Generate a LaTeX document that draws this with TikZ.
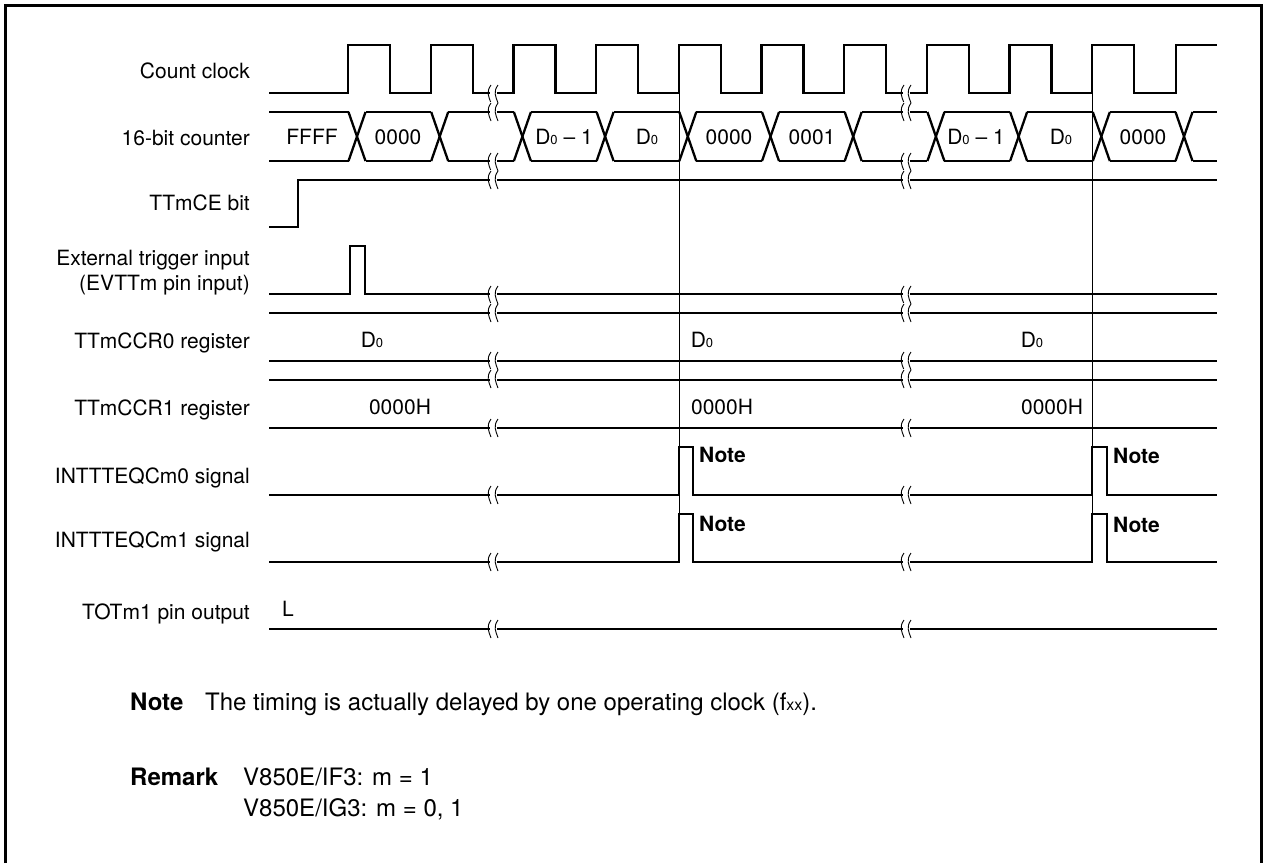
\documentclass[tikz,border=0pt]{standalone}
\usepackage{fontspec}
\setmainfont{TeX Gyre Heros}
\usepackage{tikz}

\newcommand{\dnull}{D{\fontsize{13}{13}\selectfont 0}}
\newcommand{\breakone}[2]{%
  \fill[white] (#1-3.5,#2-1.5) rectangle (#1+3.5,#2+19.5);
  \foreach \side in {-3.5,3.5} {
    \draw[breakline] (#1+\side+1.5,#2) .. controls (#1+\side-3.5,#2+7) and (#1+\side-1,#2+11) .. (#1+\side+1.5,#2+18);
  }
}

\begin{document}
\begin{tikzpicture}[
  x=1pt, y=-1pt,
  every node/.style={font=\fontsize{21}{26}\selectfont, inner sep=0pt, anchor=base},
  rowlabel/.style={anchor=base east},
  wave/.style={line width=2.3pt, line join=miter},
  guide/.style={line width=1pt},
  breakline/.style={line width=0.9pt},
  notelabel/.style={anchor=base west, font=\fontsize{21}{26}\selectfont\bfseries},
  footnote/.style={anchor=base west, font=\fontsize{24}{28}\selectfont},
  foothead/.style={anchor=base west, font=\fontsize{24}{28}\selectfont\bfseries}
]
\useasboundingbox (0,0) rectangle (1265,863);
\draw[line width=3pt] (5.5,863) -- (5.5,5.5) -- (1261.5,5.5) -- (1261.5,863);

% row labels
\node[rowlabel] (clk) at (250,78) {Count clock};
\node[rowlabel] (cnt) at (250,145) {16-bit counter};
\node[rowlabel] (ce) at (250,210) {TTmCE bit};
\node[rowlabel] (trg) at (250,265) {External trigger input};
\node[rowlabel] (trgpin) at (250,290) {(EVTTm pin input)};
\node[rowlabel] (ccr0) at (250,348) {TTmCCR0 register};
\node[rowlabel] (ccr1) at (250,415) {TTmCCR1 register};
\node[rowlabel] (eq0) at (250,483) {INTTTEQCm0 signal};
\node[rowlabel] (eq1) at (250,547) {INTTTEQCm1 signal};
\node[rowlabel] (tot) at (250,619) {TOTm1 pin output};

% guide lines
\draw[guide] (679,93) -- (679,562);
\draw[guide] (1092,93) -- (1092,562);

% clock
\draw[wave] (269,93)
  \foreach \k in {0,...,9} {
    -- ({348+82.7*\k},93) -- ({348+82.7*\k},45) -- ({390+82.7*\k},45) -- ({390+82.7*\k},93)
  }
  -- (1176,93) -- (1176,45) -- (1217,45);

% counter
\foreach \c in {357,439.7,522.4,605.1,687.8,770.5,853.2,935.9,1018.6,1101.3,1184} {
  \draw[wave] (\c-8.5,112) -- (\c+8.5,161);
  \draw[wave] (\c-8.5,161) -- (\c+8.5,112);
}
\foreach \a/\b in {269/348.5,365.5/431.2,448.2/513.9,530.9/596.6,613.6/679.3,696.3/762,779/844.7,861.7/927.4,944.4/1010.1,1027.1/1092.8,1109.8/1175.5,1192.5/1217} {
  \draw[wave] (\a,112) -- (\b,112);
  \draw[wave] (\a,161) -- (\b,161);
}
\node (cnt1) at (312,144) {FFFF};
\node (cnt2) at (398,144) {0000};
\node (cnt3) at (564,144) {\dnull\ -- 1};
\node (cnt4) at (647,144) {\dnull};
\node (cnt5) at (729,144) {0000};
\node (cnt6) at (812,144) {0001};
\node (cnt7) at (976,144) {\dnull\ -- 1};
\node (cnt8) at (1061,144) {\dnull};
\node (cnt9) at (1143,144) {0000};

% level signals
\draw[wave] (269,227) -- (298,227) -- (298,180) -- (1217,180);
\draw[wave] (269,294) -- (350,294) -- (350,246) -- (365,246) -- (365,294) -- (1217,294);
\foreach \y in {313,361,380,428,629}
  \draw[wave] (269,\y) -- (1217,\y);
\foreach \y in {495,562}
  \draw[wave] (269,\y) -- (679,\y) -- (679,\y-48) -- (693,\y-48) -- (693,\y) -- (1092,\y) -- (1092,\y-48) -- (1107,\y-48) -- (1107,\y) -- (1217,\y);

\node (d1) at (372,347) {\dnull};
\node (d2) at (702,347) {\dnull};
\node (d3) at (1032,347) {\dnull};
\node (h1) at (400,414) {0000H};
\node (h2) at (722,414) {0000H};
\node (h3) at (1052,414) {0000H};
\node (low) at (288,616) {L};

\node[notelabel] (n1) at (699,462) {Note};
\node[notelabel] (n2) at (1113,463) {Note};
\node[notelabel] (n3) at (699,531) {Note};
\node[notelabel] (n4) at (1113,532) {Note};

% breaks
\foreach \x in {493,906} {
  \foreach \y in {85,103,153,171,286,304,352,370,419,486,553,620} {
    \breakone{\x}{\y}
  }
}

% footnotes
\node[foothead] (notehd) at (130,710) {Note};
\node[footnote] (notetxt) at (205,710) {The timing is actually delayed by one operating clock (f{\fontsize{16}{16}\selectfont xx}).};
\node[foothead] (remhd) at (130,785) {Remark};
\node[footnote] (rem1) at (243,785) {V850E/IF3: m = 1};
\node[footnote] (rem2) at (243,816) {V850E/IG3: m = 0, 1};
\end{tikzpicture}
\end{document}
